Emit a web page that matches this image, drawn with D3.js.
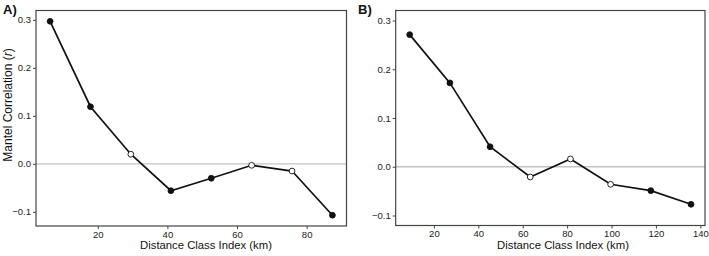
<!DOCTYPE html>
<html>
<head>
<meta charset="utf-8">
<script src="https://cdn.jsdelivr.net/npm/d3@7"></script>
<style>
  body { margin: 0; background: #fff; }
  svg text { font-family: "Liberation Sans", Arial, sans-serif; }
</style>
</head>
<body>
<div id="chart"></div>
<script>
// panel A
const distA = [6.3, 17.9, 29.5, 41.0, 52.6, 64.2, 75.8, 87.4];
const corrA = [0.297, 0.119, 0.020, -0.056, -0.030, -0.003, -0.015, -0.107];
const sigA = [true, true, false, true, true, false, false, true];
// panel B
const distB = [9.1, 27.2, 45.3, 63.4, 81.5, 99.6, 117.7, 135.8];
const corrB = [0.271, 0.172, 0.041, -0.021, 0.016, -0.036, -0.049, -0.077];
const sigB = [true, true, true, false, false, false, true, true];

const yTicks = [-0.1, 0.0, 0.1, 0.2, 0.3];
const xTicksA = [20, 40, 60, 80];
const xTicksB = [20, 40, 60, 80, 100, 120, 140];

const svg = d3.select("#chart").append("svg")
    .attr("width", 709).attr("height", 256);

function panel(opt){
    const x = d3.scaleLinear().domain(opt.xDomain).range([opt.left, opt.right]);
    const y = d3.scaleLinear().domain(opt.yDomain).range([opt.bottom, opt.top]);
    const g = svg.append("g");

    // zero reference line
    g.append("line")
      .attr("x1", opt.left).attr("x2", opt.right)
      .attr("y1", y(0)).attr("y2", y(0))
      .attr("stroke", "#c4c4c4").attr("stroke-width", 1.4);

    const yAxis = g.append("g")
      .attr("transform", `translate(${opt.left},0)`)
      .call(d3.axisLeft(y).tickValues(yTicks).tickSize(3).tickPadding(2)
            .tickFormat(d3.format(".1f")));
    const xAxis = g.append("g")
      .attr("transform", `translate(0,${opt.bottom})`)
      .call(d3.axisBottom(x).tickValues(opt.xTicks).tickSize(3).tickPadding(2));
    [xAxis, yAxis].forEach(a => {
        a.select(".domain").remove();
        a.selectAll("line").attr("stroke", "#444");
        a.selectAll("text").attr("font-size", 9.5).attr("fill", "#222")
          .style("font-family", "'Liberation Sans', Arial, sans-serif");
    });

    // line + points
    const pts = opt.dist.map((d, i) => ({x: d, y: opt.corr[i], s: opt.sig[i]}));
    g.append("path")
      .datum(pts)
      .attr("fill", "none").attr("stroke", "#111").attr("stroke-width", 1.7)
      .attr("d", d3.line().x(d => x(d.x)).y(d => y(d.y)));
    g.selectAll("circle.pt").data(pts).join("circle")
      .attr("class", "pt")
      .attr("cx", d => x(d.x)).attr("cy", d => y(d.y))
      .attr("r", 2.9)
      .attr("fill", d => d.s ? "#111" : "#fff")
      .attr("stroke", "#111").attr("stroke-width", 0.9);

    // panel border
    g.append("rect")
      .attr("x", opt.left).attr("y", opt.top)
      .attr("width", opt.right - opt.left).attr("height", opt.bottom - opt.top)
      .attr("fill", "none").attr("stroke", "#444").attr("stroke-width", 1.2);

    g.append("text")
      .attr("x", opt.titleX).attr("y", 249)
      .attr("text-anchor", "middle").attr("font-size", 11.3).attr("fill", "#111")
      .text("Distance Class Index (km)");

    g.append("text")
      .attr("x", opt.tagX).attr("y", 14)
      .attr("font-size", 13).attr("font-weight", "bold").attr("fill", "#111")
      .text(opt.tag);
    return g;
}

panel({
    dist: distA, corr: corrA, sig: sigA, xTicks: xTicksA,
    xDomain: [2.25, 91.45], yDomain: [-0.1295, 0.3195],
    left: 36, right: 346.5, top: 10.5, bottom: 226, tag: "A)", tagX: 3, titleX: 206
});
panel({
    dist: distB, corr: corrB, sig: sigB, xTicks: xTicksB,
    xDomain: [2.8, 142.1], yDomain: [-0.1205, 0.3205],
    left: 395.7, right: 705, top: 10.5, bottom: 225.5, tag: "B)", tagX: 358, titleX: 563
});

svg.append("text")
  .attr("transform", "translate(11.5,105) rotate(-90)")
  .attr("text-anchor", "middle").attr("font-size", 12).attr("fill", "#111")
  .call(t => {
      t.append("tspan").text("Mantel Correlation (");
      t.append("tspan").attr("font-style", "italic").text("r");
      t.append("tspan").text(")");
  });
</script>
</body>
</html>
